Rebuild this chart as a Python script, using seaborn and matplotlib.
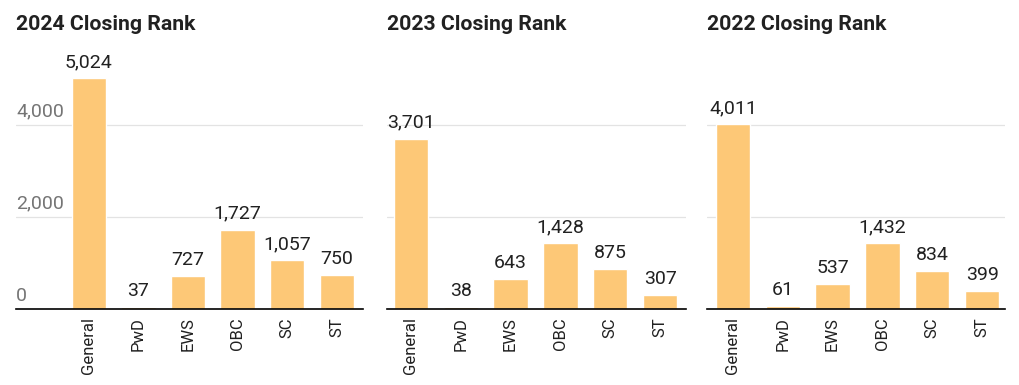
import matplotlib
matplotlib.use("Agg")
import matplotlib.pyplot as plt
import matplotlib.transforms as mtransforms
import seaborn as sns
import pandas as pd

# ─── Data ────────────────────────────────────────────────────────────────────
categories = ["General", "PwD", "EWS", "OBC", "SC", "ST"]
years = ["2024", "2023", "2022"]
rank_2024 = [5024, 37, 727, 1727, 1057, 750]
rank_2023 = [3701, 38, 643, 1428, 875, 307]
rank_2022 = [4011, 61, 537, 1432, 834, 399]
y_ticks = [0, 2000, 4000]

# ─── Styling ─────────────────────────────────────────────────────────────────
sns.set_theme(style="white")
plt.rcParams["font.family"] = ["Roboto", "DejaVu Sans"]

BAR_COLOR = "#fdc877"
GRID_COLOR = "#e3e3e3"
TEXT_COLOR = "#212121"
TICK_COLOR = "#757575"

W, H = 1020, 385
fig = plt.figure(figsize=(W / 100, H / 100), dpi=100)

# axes pixel extents (left, right) and xlims so bar centres line up
panels = [
    (16, 363, (-1.47, 5.53)),
    (387, 686, (-0.48, 5.52)),
    (707, 1005, (-0.52, 5.46)),
]
base_px, top_px = 309, 56
y_max = 5500

series = [rank_2024, rank_2023, rank_2022]

for i, (year, vals, (x0, x1, xlim)) in enumerate(zip(years, series, panels)):
    ax = fig.add_axes([x0 / W, 1 - base_px / H, (x1 - x0) / W, (base_px - top_px) / H])
    df = pd.DataFrame({"category": categories, "rank": vals})
    sns.barplot(data=df, x="category", y="rank", color=BAR_COLOR,
                saturation=1, width=0.69, ax=ax)
    ax.set_xlim(*xlim)
    ax.set_ylim(0, y_max)

    # gridlines (not at zero, the baseline is drawn by the spine)
    for t in y_ticks[1:]:
        ax.axhline(t, color=GRID_COLOR, lw=0.9, zorder=0)
    ax.set_yticks([])
    ax.set_xlabel("")
    ax.set_ylabel("")

    for s in ["top", "right", "left"]:
        ax.spines[s].set_visible(False)
    ax.spines["bottom"].set_color("black")
    ax.spines["bottom"].set_linewidth(1.2)

    ax.tick_params(axis="x", length=0, pad=6)
    ax.set_xticks(range(len(categories)))
    ax.set_xticklabels(categories, rotation=90, fontsize=12, color=TEXT_COLOR)

    # value labels
    for j, v in enumerate(vals):
        ax.annotate(f"{v:,}", (j, v), xytext=(0, 5), textcoords="offset points",
                    ha="center", va="bottom", fontsize=14, color=TEXT_COLOR)

    # y tick labels sit inside the plot, above their gridline (first panel only)
    if i == 0:
        trans = mtransforms.blended_transform_factory(ax.transAxes, ax.transData)
        for t in y_ticks:
            ax.annotate(f"{t:,}", (0, t), xycoords=trans, xytext=(0, 3),
                        textcoords="offset points", ha="left", va="bottom",
                        fontsize=14, color=TICK_COLOR)

    fig.text(x0 / W, 1 - 25 / H, f"{year} Closing Rank", ha="left", va="center",
             fontsize=15.3, fontweight="bold", color=TEXT_COLOR)

fig.savefig("out.png", dpi=100, facecolor="white")
